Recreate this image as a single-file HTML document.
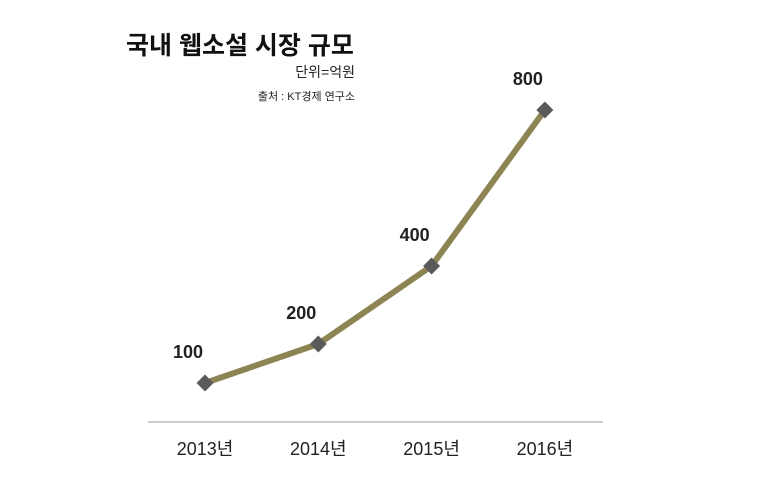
<!DOCTYPE html>
<html><head><meta charset="utf-8">
<style>
body{margin:0;width:764px;height:481px;background:#fff;overflow:hidden;font-family:"Liberation Sans","Noto Sans CJK KR",sans-serif}
</style></head>
<body>
<svg width="764" height="481" style="position:absolute;left:0;top:0">
<text x="126" y="54" font-size="25" font-weight="bold" fill="#111" font-family="Liberation Sans, Noto Sans CJK KR, sans-serif">국내 웹소설 시장 규모</text>
<text x="355" y="77" font-size="14" text-anchor="end" fill="#222" font-family="Liberation Sans, Noto Sans CJK KR, sans-serif">단위=억원</text>
<text x="355" y="100" font-size="11" text-anchor="end" fill="#222" font-family="Liberation Sans, Noto Sans CJK KR, sans-serif">출처 : KT경제 연구소</text>
<line x1="148" y1="422" x2="603" y2="422" stroke="#999" stroke-width="1"/>
<g id="plot"></g>
</svg>
<script>
const categories=["2013년","2014년","2015년","2016년"];
const values=[100,200,400,800];
const labels=["100","200","400","800"];
function xPos(i){return 205+i*113.3;}
function yPos(v){return 422-v*0.39;}
const g=document.getElementById('plot');
const NS='http://www.w3.org/2000/svg';
const pl=document.createElementNS(NS,'polyline');
pl.setAttribute('points',values.map((v,i)=>xPos(i)+','+yPos(v)).join(' '));
pl.setAttribute('fill','none');pl.setAttribute('stroke','#8c8452');pl.setAttribute('stroke-width','6');


g.appendChild(pl);
values.forEach((v,i)=>{
 const x=xPos(i),y=yPos(v);
 const m=document.createElementNS(NS,'rect');
 m.setAttribute('x',x-6);m.setAttribute('y',y-6);m.setAttribute('width',12);m.setAttribute('height',12);
 m.setAttribute('fill','#5a5a5a');m.setAttribute('transform','rotate(45 '+x+' '+y+')');
 
 
 g.appendChild(m);
 const t=document.createElementNS(NS,'text');
 t.setAttribute('x',x-17);t.setAttribute('y',y-25);t.setAttribute('text-anchor','middle');
 t.setAttribute('font-size','18');t.setAttribute('font-weight','bold');t.setAttribute('fill','#222');
 t.textContent=labels[i];
 
 
 g.appendChild(t);
 const c=document.createElementNS(NS,'text');
 c.setAttribute('x',x);c.setAttribute('y',455);c.setAttribute('text-anchor','middle');
 c.setAttribute('font-size','18');c.setAttribute('fill','#222');
 c.setAttribute('font-family','Liberation Sans, Noto Sans CJK KR, sans-serif');
 c.textContent=categories[i];
 
 
 g.appendChild(c);
});
</script>
</body></html>
